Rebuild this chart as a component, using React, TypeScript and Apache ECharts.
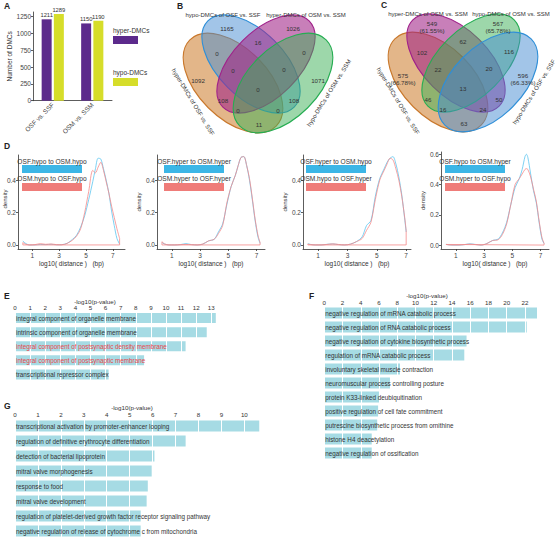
import React, { useEffect, useRef } from "react";
import * as echarts from "echarts";

const FONT = "'Liberation Sans', Arial, Helvetica, sans-serif";

// ---------- Panel A ----------
const comparisons = ["OSF vs. SSF", "OSM vs. SSM"];
const hyperCounts = [1211, 1150];
const hypoCounts = [1289, 1190];
const aLegend = ["hyper-DMCs", "hypo-DMCs"];

// ---------- Panels B & C (Venn) ----------
// region keys: L outer-left, l inner-left, r inner-right, R outer-right
const vennRegions = ["L", "l", "r", "R", "Ll", "Lr", "LR", "lr", "lR", "rR", "Llr", "LlR", "LrR", "lrR", "LlrR"];
const vennBSets = ["hyper-DMCs of OSF vs. SSF", "hypo-DMCs of OSF vs. SSF", "hyper-DMCs of OSM vs. SSM", "hypo-DMCs of OSM vs. SSM"];
const vennBCounts = ["1092", "1165", "1026", "1071", "0", "108", "11", "16", "108", "0", "0", "0", "0", "0", "0"];
const vennCSets = ["hyper-DMCs of OSF vs. SSF", "hyper-DMCs of OSM vs. SSM", "hypo-DMCs of OSM vs. SSM", "hypo-DMCs of OSF vs. SSF"];
const vennCCounts = ["575\n(66.78%)", "549\n(61.55%)", "567\n(65.78%)", "596\n(66.33%)", "102", "46", "63", "62", "50", "116", "22", "24", "16", "20", "13"];

// ---------- Panel D (density) ----------
const dBlueNames = ["OSF.hypo to OSM.hypo", "OSF.hyper to OSM.hyper", "OSF.hyper to OSM.hypo", "OSF.hypo to OSM.hyper"];
const dRedNames = ["OSM.hypo to OSF.hypo", "OSM.hyper to OSF.hyper", "OSM.hypo to OSF.hyper", "OSM.hyper to OSF.hypo"];
const dX1 = [0.3, 0.5, 0.8, 1.2, 1.6, 2.0, 2.4, 2.8, 3.2, 3.6, 4.0, 4.3, 4.6, 4.9, 5.2, 5.5, 5.7, 5.9, 6.1, 6.3, 6.5, 6.7, 6.9, 7.1, 7.3, 7.5];
const dBlue1 = [0.025, 0.01, 0, 0, 0.003, 0.002, 0.004, 0.001, 0.002, 0.01, 0.035, 0.06, 0.11, 0.18, 0.28, 0.39, 0.47, 0.535, 0.53, 0.47, 0.4, 0.32, 0.21, 0.12, 0.04, 0.005];
const dRed1 = [0.015, 0.005, 0, 0.002, 0.008, 0.004, 0.006, 0.002, 0.001, 0.01, 0.03, 0.055, 0.1, 0.2, 0.33, 0.46, 0.445, 0.48, 0.51, 0.46, 0.39, 0.32, 0.24, 0.17, 0.1, 0.04];
const dX2 = [0.3, 0.5, 0.8, 1.2, 1.6, 2.0, 2.4, 2.8, 3.2, 3.6, 4.0, 4.3, 4.6, 4.9, 5.2, 5.5, 5.7, 5.9, 6.1, 6.3, 6.5, 6.7, 6.9, 7.1, 7.25];
const dBlue2 = [0.015, 0.005, 0, 0, 0.002, 0.008, 0.002, 0, 0.005, 0.025, 0.035, 0.08, 0.13, 0.25, 0.36, 0.43, 0.49, 0.54, 0.545, 0.49, 0.4, 0.28, 0.15, 0.05, 0.01];
const dRed2 = [0.02, 0.006, 0, 0, 0.002, 0.003, 0.002, 0, 0.006, 0.025, 0.035, 0.07, 0.12, 0.26, 0.36, 0.43, 0.49, 0.54, 0.545, 0.49, 0.41, 0.29, 0.16, 0.06, 0.015];
const dX3 = [0.3, 0.5, 0.8, 1.2, 1.6, 2.0, 2.4, 2.8, 3.2, 3.6, 4.0, 4.3, 4.6, 4.9, 5.2, 5.5, 5.7, 5.9, 6.1, 6.3, 6.5, 6.7, 6.9, 7.0];
const dBlue3 = [0.008, 0.003, 0, 0, 0.004, 0.006, 0.002, 0, 0.005, 0.02, 0.05, 0.12, 0.15, 0.3, 0.41, 0.47, 0.51, 0.535, 0.545, 0.5, 0.42, 0.31, 0.16, 0.08];
const dRed3 = [0.005, 0.002, 0, 0, 0.003, 0.007, 0.003, 0, 0.005, 0.02, 0.04, 0.09, 0.14, 0.28, 0.4, 0.46, 0.5, 0.535, 0.525, 0.47, 0.4, 0.3, 0.17, 0.09];
const dX4 = [0.3, 0.5, 0.8, 1.2, 1.6, 2.0, 2.4, 2.8, 3.2, 3.6, 4.0, 4.3, 4.6, 4.9, 5.2, 5.5, 5.7, 5.9, 6.0, 6.1, 6.3, 6.5, 6.7, 6.9, 7.1, 7.25];
const dBlue4 = [0.005, 0.002, 0, 0, 0.003, 0.008, 0.004, 0, 0.01, 0.03, 0.04, 0.08, 0.15, 0.27, 0.38, 0.44, 0.5, 0.585, 0.6, 0.58, 0.47, 0.36, 0.28, 0.15, 0.04, 0.01];
const dRed4 = [0.004, 0.001, 0, 0, 0.003, 0.006, 0.003, 0, 0.01, 0.03, 0.035, 0.07, 0.14, 0.27, 0.4, 0.44, 0.47, 0.5, 0.505, 0.5, 0.45, 0.37, 0.29, 0.16, 0.05, 0.012];
const dXTicks = [1, 3, 5, 7];
const dYTicks = [0, 0.2, 0.4];
const dYTicks4 = [0, 0.2, 0.4, 0.6];
const dYName = "density";

// ---------- Panel E ----------
const eTerms = [
  "integral component of organelle membrane",
  "intrinsic component of organelle membrane",
  "integral component of postsynaptic density membrane",
  "integral component of postsynaptic membrane",
  "transcriptional repressor complex",
];
const eValues = [13.3, 12.7, 11.3, 8.55, 6.2];
const eHighlighted = [false, false, true, true, false];

// ---------- Panel F ----------
const fTerms = [
  "negative regulation of mRNA catabolic process",
  "negative regulation of RNA catabolic process",
  "negative regulation of cytokine biosynthetic process",
  "regulation of mRNA catabolic process",
  "involuntary skeletal muscle contraction",
  "neuromuscular process controlling posture",
  "protein K33-linked deubiquitination",
  "positive regulation of cell fate commitment",
  "putrescine biosynthetic process from ornithine",
  "histone H4 deacetylation",
  "negative regulation of ossification",
];
const fValues = [23.35, 22.2, 15.6, 15.35, 8.3, 7.2, 6.0, 5.9, 5.8, 5.2, 5.2];

// ---------- Panel G ----------
const gTerms = [
  "transcriptional activation by promoter-enhancer looping",
  "regulation of definitive erythrocyte differentiation",
  "detection of bacterial lipoprotein",
  "mitral valve morphogenesis",
  "response to food",
  "mitral valve development",
  "regulation of platelet-derived growth factor receptor signaling pathway",
  "negative regulation of release of cytochrome c from mitochondria",
];
const gValues = [10.65, 7.44, 6.08, 5.96, 5.79, 5.74, 5.48, 5.48];

const pvalTitle = "-log10(p-value)";

// ---------- styling ----------
const PURPLE = "#5c2a8c";
const YELLOW = "#d6dd2a";
const DBLUE = "#5cc5f0";
const DRED = "#f58a8a";
const DBLUE_BOX = "#3cb6e6";
const DRED_BOX = "#ef7c79";
const GO_BAR = "#a6dbe4";
const AXIS = "#333";
const TXT = "#333";

const C_ORANGE = { stroke: "#c9782c", fill: "rgba(204,122,40,0.55)" };
const C_BLUE = { stroke: "#2f8fd8", fill: "rgba(70,140,210,0.5)" };
const C_PURPLE = { stroke: "#a0218a", fill: "rgba(160,35,135,0.58)" };
const C_GREEN = { stroke: "#26ad52", fill: "rgba(60,175,85,0.5)" };

// ellipse layout relative to diagram centre: dx, dy, rx, ry, rotation(deg)
const ELLIPSES = [
  [-25, -6, 61, 35, -45],
  [-7, -25, 61, 33, -45],
  [8, -25, 61, 33, 45],
  [25, -6, 61, 35, 45],
];
const REGION_POS: Record<string, number[]> = {
  L: [-60, -9], l: [-31, -61], r: [35, -61], R: [60, -9],
  Ll: [-41, -36], Lr: [-35, 11], LR: [1, 35], lr: [0, -47], lR: [36, 11], rR: [46, -37],
  Llr: [-25, -19], LlR: [20, 21], LrR: [-20, 21], lrR: [26, -20], LlrR: [0, 0],
};
const SET_LABEL_POS = [
  [-65, 13, -59],
  [-35, -74, 0],
  [48, -74, 0],
  [71, 4, 58],
];

function txt(x: number, y: number, text: string, opts: any = {}) {
  return {
    type: "text",
    x,
    y,
    rotation: ((opts.rot || 0) * Math.PI) / 180,
    silent: true,
    z: 10,
    style: {
      text,
      fill: opts.color || TXT,
      fontSize: opts.size || 6.5,
      fontFamily: FONT,
      fontWeight: opts.weight || "normal",
      align: opts.align || "center",
      verticalAlign: opts.valign || "middle",
      lineHeight: opts.lineHeight || 7,
    },
  };
}

function venn(cx: number, cy: number, sets: string[], counts: string[], palette: any[]) {
  const out: any[] = [];
  ELLIPSES.forEach((e, i) => {
    out.push({
      type: "ellipse",
      x: cx + e[0],
      y: cy + e[1],
      rotation: (e[4] * Math.PI) / 180,
      shape: { cx: 0, cy: 0, rx: e[2], ry: e[3] },
      style: { fill: palette[i].fill, stroke: palette[i].stroke, lineWidth: 1.1 },
      silent: true,
      z: 1,
    });
  });
  counts.forEach((c, i) => {
    const p = REGION_POS[vennRegions[i]];
    out.push(txt(cx + p[0], cy + p[1], c, { size: 6.2 }));
  });
  sets.forEach((s, i) => {
    const p = SET_LABEL_POS[i];
    out.push(txt(cx + p[0], cy + p[1], s, { size: 6, rot: p[2] }));
  });
  return out;
}

const dXRanges = [
  [-0.06, 7.9],
  [-0.05, 7.6],
  [-0.03, 7.33],
  [-0.05, 7.6],
];
const dGrids = [
  { left: 18, top: 155, width: 107, height: 94 },
  { left: 157, top: 155, width: 108, height: 94 },
  { left: 303, top: 155, width: 108, height: 94 },
  { left: 441, top: 152, width: 108, height: 97 },
];
const dYRanges = [
  [-0.025, 0.555],
  [-0.025, 0.555],
  [-0.025, 0.555],
  [-0.026, 0.615],
];
const dSets = [
  [dX1, dBlue1, dRed1],
  [dX2, dBlue2, dRed2],
  [dX3, dBlue3, dRed3],
  [dX4, dBlue4, dRed4],
];

function buildOption() {
  const grids: any[] = [
    { left: 33, top: 12, width: 79, height: 88.7 },
    ...dGrids,
    { left: 15, top: 311, width: 202.3, height: 70.5 },
    { left: 324.3, top: 306, width: 213.4, height: 154 },
    { left: 15, top: 418.5, width: 245.4, height: 120 },
  ].map((g) => ({ ...g, containLabel: false, outerBoundsMode: "none" }));

  const xAxis: any[] = [];
  const yAxis: any[] = [];
  const series: any[] = [];

  // ---- A ----
  xAxis.push({
    gridIndex: 0,
    type: "category",
    data: comparisons,
    axisLine: { lineStyle: { color: AXIS, width: 0.8 } },
    axisTick: { alignWithLabel: true, length: 2, lineStyle: { color: AXIS, width: 0.8 } },
    axisLabel: { rotate: 45, fontSize: 6.5, color: "#444", margin: 3, interval: 0 },
  });
  yAxis.push({
    gridIndex: 0,
    type: "value",
    min: 0,
    max: 1320,
    interval: 250,
    axisLine: { show: true, lineStyle: { color: AXIS, width: 0.8 } },
    axisTick: { show: true, length: 2, lineStyle: { color: AXIS, width: 0.8 } },
    axisLabel: { fontSize: 6.5, color: "#444", margin: 2, showMaxLabel: false, formatter: (v: number) => String(v) },
    splitLine: { show: false },
    name: "Number of DMCs",
    nameLocation: "middle",
    nameGap: 18,
    nameTextStyle: { fontSize: 6.5, color: TXT },
  });
  const barLabel = { show: true, position: "top", distance: 1, fontSize: 5.8, color: TXT };
  series.push({
    type: "bar",
    name: aLegend[0],
    xAxisIndex: 0,
    yAxisIndex: 0,
    data: hyperCounts,
    barWidth: 10,
    barGap: "22%",
    itemStyle: { color: PURPLE },
    label: barLabel,
  });
  series.push({
    type: "bar",
    name: aLegend[1],
    xAxisIndex: 0,
    yAxisIndex: 0,
    data: hypoCounts,
    barWidth: 10,
    barGap: "22%",
    itemStyle: { color: YELLOW },
    label: barLabel,
  });

  // ---- D ----
  dSets.forEach((set, k) => {
    const gi = k + 1;
    const [xs, blue, red] = set;
    xAxis.push({
      gridIndex: gi,
      type: "value",
      min: dXRanges[k][0],
      max: dXRanges[k][1],
      axisLine: { show: true, onZero: false, lineStyle: { color: AXIS, width: 0.8 } },
      axisTick: { show: true, length: 2, customValues: dXTicks, lineStyle: { color: AXIS, width: 0.8 } },
      axisLabel: { fontSize: 6.5, color: "#444", margin: 3, customValues: dXTicks },
      splitLine: { show: false },
      name: "log10( distance )   (bp)",
      nameLocation: "middle",
      nameGap: 11,
      nameTextStyle: { fontSize: 6.5, color: TXT },
    });
    const yt = k === 3 ? dYTicks4 : dYTicks;
    yAxis.push({
      gridIndex: gi,
      type: "value",
      min: dYRanges[k][0],
      max: dYRanges[k][1],
      axisLine: { show: true, onZero: false, lineStyle: { color: AXIS, width: 0.8 } },
      axisTick: { show: true, length: 2, customValues: yt, lineStyle: { color: AXIS, width: 0.8 } },
      axisLabel: { fontSize: 6.5, color: "#444", margin: 2, customValues: yt, formatter: (v: number) => v.toFixed(1) },
      splitLine: { show: false },
      name: k === 0 ? "" : dYName,
      nameLocation: "middle",
      nameGap: 8,
      nameTextStyle: { fontSize: 6, color: TXT },
    });
    series.push({
      type: "line",
      name: dBlueNames[k],
      xAxisIndex: gi,
      yAxisIndex: gi,
      data: xs.map((x, i) => [x, blue[i]]),
      smooth: 0.3,
      symbol: "none",
      lineStyle: { color: DBLUE, width: 0.8 },
      z: 2,
    });
    series.push({
      type: "line",
      name: dRedNames[k],
      xAxisIndex: gi,
      yAxisIndex: gi,
      data: xs.map((x, i) => [x, red[i]]),
      smooth: 0.3,
      symbol: "none",
      lineStyle: { color: DRED, width: 0.8 },
      z: 3,
    });
    const x0 = xs[0];
    const xn = xs[xs.length - 1];
    series.push({
      type: "line",
      xAxisIndex: gi,
      yAxisIndex: gi,
      data: [
        [x0, red[0]],
        [x0, 0],
        [xn, 0],
        [xn, red[red.length - 1]],
      ],
      symbol: "none",
      lineStyle: { color: DRED, width: 0.8 },
      z: 3,
    });
  });

  // ---- E, F, G ----
  const goPanels = [
    { gi: 5, terms: eTerms, values: eValues, max: 13.4, interval: 1, barWidth: 10, colors: eTerms.map((_, i) => (eHighlighted[i] ? "#e8464b" : TXT)) },
    { gi: 6, terms: fTerms, values: fValues, max: 23.4, interval: 2, barWidth: 11, colors: fTerms.map(() => TXT) },
    { gi: 7, terms: gTerms, values: gValues, max: 10.7, interval: 1, barWidth: 11, colors: gTerms.map(() => TXT) },
  ];
  goPanels.forEach((p) => {
    xAxis.push({
      gridIndex: p.gi,
      type: "value",
      position: "top",
      min: 0,
      max: p.max,
      interval: p.interval,
      axisLine: { show: false },
      axisTick: { show: false },
      axisLabel: { fontSize: 6.2, color: TXT, margin: 1, showMaxLabel: false },
      splitLine: { show: true, lineStyle: { color: "#ffffff", width: 1 } },
      z: 3,
    });
    yAxis.push({
      gridIndex: p.gi,
      type: "category",
      inverse: true,
      data: p.terms,
      axisLine: { show: false },
      axisTick: { show: false },
      axisLabel: {
        inside: true,
        margin: 1,
        fontSize: 6.3,
        color: (_v: string, i: number) => p.colors[i],
        interval: 0,
      },
      splitLine: { show: false },
      z: 5,
    });
    series.push({
      type: "bar",
      xAxisIndex: p.gi,
      yAxisIndex: p.gi,
      data: p.values,
      barWidth: p.barWidth,
      itemStyle: { color: GO_BAR },
      z: 2,
    });
  });

  // ---- graphics ----
  const graphics: any[] = [];
  const panelLetters: [string, number, number][] = [
    ["A", 4, 6], ["B", 177, 6], ["C", 381, 5], ["D", 4, 146], ["E", 4, 296], ["F", 309, 296], ["G", 4, 406],
  ];
  panelLetters.forEach(([t, x, y]) => graphics.push(txt(x, y, t, { size: 8.5, weight: "bold", color: "#222", align: "left" })));

  // A legend
  graphics.push(txt(113, 30, aLegend[0], { size: 6.5, align: "left" }));
  graphics.push({ type: "rect", shape: { x: 113, y: 36, width: 25, height: 8 }, style: { fill: PURPLE }, silent: true });
  graphics.push(txt(113, 72, aLegend[1], { size: 6.5, align: "left" }));
  graphics.push({ type: "rect", shape: { x: 113, y: 78, width: 25, height: 8 }, style: { fill: YELLOW }, silent: true });

  // Venns
  graphics.push(...venn(258, 89, vennBSets, vennBCounts, [C_ORANGE, C_BLUE, C_PURPLE, C_GREEN]));
  graphics.push(...venn(463, 88, vennCSets, vennCCounts, [C_ORANGE, C_PURPLE, C_GREEN, C_BLUE]));

  // D: first plot's y-axis title, kept inside the page
  graphics.push(txt(5, 199, dYName, { size: 6, rot: 90 }));

  // D legends
  const dLegendX = [52, 194, 336, 475];
  dLegendX.forEach((cx, k) => {
    graphics.push({ type: "rect", shape: { x: cx - 30, y: 165, width: 60, height: 8 }, style: { fill: DBLUE_BOX }, silent: true, z: 8 });
    graphics.push({ type: "rect", shape: { x: cx - 30, y: 183, width: 60, height: 8 }, style: { fill: DRED_BOX }, silent: true, z: 8 });
    graphics.push(txt(cx, 161.5, dBlueNames[k], { size: 6.6 }));
    graphics.push(txt(cx, 178.5, dRedNames[k], { size: 6.6 }));
  });

  // GO titles
  graphics.push(txt(95, 301.5, pvalTitle, { size: 6.2 }));
  graphics.push(txt(427, 295.5, pvalTitle, { size: 6.2 }));
  graphics.push(txt(132, 407.5, pvalTitle, { size: 6.2 }));

  return {
    animation: false,
    backgroundColor: "#ffffff",
    textStyle: { fontFamily: FONT },
    grid: grids,
    xAxis,
    yAxis,
    series,
    graphic: { elements: graphics },
  };
}

export default function App() {
  const ref = useRef<HTMLDivElement>(null);
  useEffect(() => {
    const chart = echarts.init(ref.current as HTMLDivElement, null, { renderer: "svg" });
    chart.setOption(buildOption() as any);
    return () => chart.dispose();
  }, []);
  return (
    <div
      ref={ref}
      style={{ position: "fixed", left: 0, top: 0, width: 558, height: 537, background: "#fff" }}
    />
  );
}
